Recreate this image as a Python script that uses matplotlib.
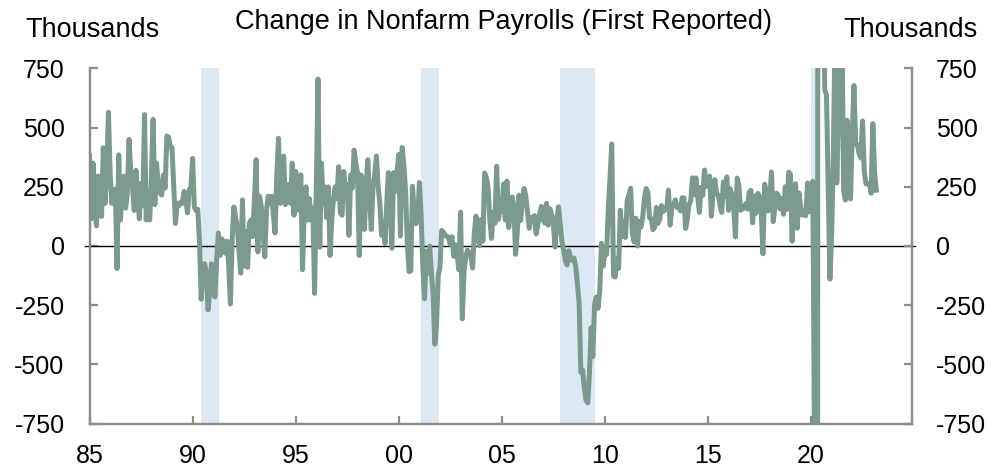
import numpy as np
import matplotlib
matplotlib.use("Agg")
import matplotlib.pyplot as plt

# Monthly change in nonfarm payrolls, first reported (thousands), Jan 1985 onward
payrolls_1985_1989 = [
    380, 115, 350, 200, 85, 295, 190, 125, 415, 180, 310, 565,
    300, 180, 210, 240, -95, 385, 110, 250, 295, 160, 225, 450,
    310, 250, 150, 320, 200, 115, 265, 170, 555, 110, 230, 110,
    290, 535, 175, 350, 260, 225, 215, 300, 245, 465, 460, 420,
    415, 250, 95, 180, 170, 185, 180, 230, 200, 140, 235, 250,
]
payrolls_1990_1994 = [
    370, 165, 150, 155, 20, -225, -100, -75, -110, -270, -190, -75,
    -160, -215, -60, 55, -40, 30, 15, -30, 20, -80, -245, 25,
    165, 120, 85, -20, -115, 195, -85, 60, -90, 95, 110, 40,
    200, 365, -25, 210, 165, 60, -45, 150, 210, 180, 210, 130,
    55, 300, 455, 180, 200, 380, 175, 230, 260, 180, 350, 130,
]
payrolls_1995_1999 = [
    315, 240, 150, 300, -100, 165, 250, 110, 200, 110, 160, -200,
    240, 705, -5, 350, 180, 250, 120, 250, -40, 110, 200, 250,
    200, 335, 140, 130, 315, 220, 260, 45, 300, 245, 405, 350,
    310, -40, 300, 180, 70, 260, 365, 200, 70, 250, 300, 380,
    250, 180, 45, 100, 10, 180, 310, 150, -10, 310, 230, 310,
]
payrolls_2000_2004 = [
    387, 43, 416, 340, 231, 11, -108, -105, 252, 137, 94, 105,
    268, 135, -86, -223, -22, -114, -1, -113, -199, -415, -331, -124,
    -89, 66, 58, 43, 41, 36, 6, 39, -43, 5, -40, -101,
    143, -308, -108, -48, -17, -30, -44, -93, 57, 126, 57, 1,
    112, 21, 308, 288, 248, 112, 32, 144, 96, 337, 112, 157,
]
payrolls_2005_2009 = [
    146, 262, 110, 274, 78, 146, 207, 169, -35, 56, 215, 108,
    193, 243, 211, 138, 75, 121, 113, 128, 51, 92, 132, 167,
    111, 97, 180, 88, 157, 132, 92, -4, 110, 166, 94, 18,
    -17, -63, -80, -20, -49, -62, -51, -84, -159, -240, -533, -524,
    -598, -651, -663, -539, -345, -467, -247, -216, -263, -190, 11, -85,
]
payrolls_2010_2014 = [
    -20, -36, 162, 290, 431, -125, -131, -54, -95, 151, 39, 103,
    36, 192, 216, 244, 54, 18, 117, 0, 103, 80, 120, 200,
    243, 227, 120, 115, 69, 80, 163, 96, 114, 171, 146, 155,
    157, 236, 88, 165, 175, 195, 162, 169, 148, 204, 203, 74,
    113, 175, 192, 288, 217, 288, 209, 142, 248, 214, 321, 252,
]
payrolls_2015_2019 = [
    257, 295, 126, 223, 280, 223, 215, 173, 142, 271, 211, 292,
    151, 242, 215, 160, 38, 287, 255, 151, 156, 161, 178, 156,
    227, 235, 98, 211, 138, 222, 209, 156, -33, 261, 228, 148,
    200, 313, 103, 164, 223, 213, 157, 201, 134, 250, 155, 312,
    304, 20, 196, 263, 75, 224, 164, 130, 136, 128, 266, 145,
]
payrolls_2020_2023 = [
    225, 273, -701, -20500, 2509, 4800, 1763, 1371, 661, 638, 245, -140,
    49, 379, 916, 266, 559, 850, 943, 235, 194, 531, 210, 199,
    467, 678, 431, 428, 390, 372, 528, 315, 263, 261, 263, 223,
    517, 311, 236,
]

# recession shading (decimal years)
recession_start = [1990.42, 2001.08, 2007.83, 2020.0]
recession_end = [1991.27, 2001.95, 2009.53, 2020.25]

year_ticks = [1985, 1990, 1995, 2000, 2005, 2010, 2015, 2020]
year_labels = ['85', '90', '95', '00', '05', '10', '15', '20']
y_ticks = [-750, -500, -250, 0, 250, 500, 750]

payrolls = np.array(payrolls_1985_1989 + payrolls_1990_1994 + payrolls_1995_1999
                    + payrolls_2000_2004 + payrolls_2005_2009 + payrolls_2010_2014
                    + payrolls_2015_2019 + payrolls_2020_2023, dtype=float)
dates = 1985 + np.arange(len(payrolls)) / 12.0

plt.rcParams['font.family'] = ['Liberation Sans', 'DejaVu Sans']
plt.rcParams['axes.unicode_minus'] = False

LINE = '#7b998d'
SHADE = '#dde8f5'
SPINE = '#8c8c8c'
FS = 18
TITLE_FS = 19.5

fig = plt.figure(figsize=(9.95, 4.69), dpi=100)
ax = fig.add_axes([0.090, 0.097, 0.8266, 0.757])

for s, e in zip(recession_start, recession_end):
    ax.axvspan(s, e, color=SHADE, lw=0, zorder=0)

# zero line pokes slightly past both spines, as in the original
ax.axhline(0, xmin=-0.006, xmax=1.004, color='black', lw=1.0, zorder=2, clip_on=False)
ax.plot(dates, payrolls, color=LINE, lw=3.6, zorder=3)

ax.set_xlim(1985, 2024.9)
ax.set_ylim(-750, 750)
ax.set_xticks(year_ticks)
ax.set_xticklabels(year_labels)
ax.set_yticks(y_ticks)

ax2 = ax.twinx()
ax2.set_ylim(-750, 750)
ax2.set_yticks(y_ticks)

for a in (ax, ax2):
    a.spines['top'].set_visible(False)
    for side in ('left', 'right', 'bottom'):
        a.spines[side].set_color(SPINE)
        a.spines[side].set_linewidth(1.6)

ax.tick_params(axis='x', direction='in', length=6, width=1.6, color=SPINE,
               labelsize=FS, pad=15)
ax.tick_params(axis='y', direction='in', length=6, width=1.6, color=SPINE,
               labelsize=FS, pad=18)
ax2.tick_params(axis='y', direction='in', length=6, width=1.6, color=SPINE,
                labelsize=FS, pad=17)

fig.text(25 / 995, 1 - 30 / 469, 'Thousands', fontsize=TITLE_FS, va='center', ha='left')
fig.text(978 / 995, 1 - 30 / 469, 'Thousands', fontsize=TITLE_FS, va='center', ha='right')
fig.text(504 / 995, 1 - 22 / 469, 'Change in Nonfarm Payrolls (First Reported)',
         fontsize=TITLE_FS, va='center', ha='center')

fig.savefig('out.png', dpi=100)
